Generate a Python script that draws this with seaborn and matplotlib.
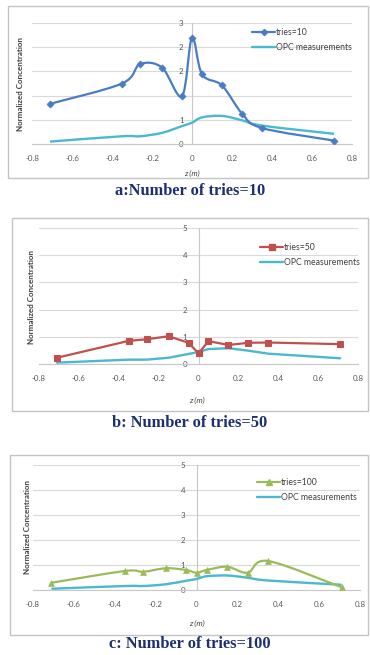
import numpy as np
import pandas as pd
import matplotlib
matplotlib.use("Agg")
import matplotlib.pyplot as plt
from matplotlib.path import Path
from matplotlib.patches import PathPatch, Rectangle
from matplotlib.lines import Line2D
from matplotlib.ticker import FuncFormatter
import seaborn as sns

# Axial positions (m) shared by every series
positions = [-0.71, -0.35, -0.26, -0.15, -0.05, 0.0, 0.05, 0.15, 0.25, 0.35, 0.71]

# Simulated normalized concentrations for each number of tries
tries10 = [0.83, 1.25, 1.65, 1.58, 0.99, 2.20, 1.44, 1.21, 0.63, 0.33, 0.07]
tries50 = [0.23, 0.85, 0.91, 1.02, 0.78, 0.39, 0.84, 0.70, 0.78, 0.79, 0.73]
tries100 = [0.29, 0.76, 0.73, 0.87, 0.80, 0.69, 0.80, 0.93, 0.69, 1.16, 0.11]

# Measured (OPC) normalized concentrations
opc = [0.05, 0.16, 0.16, 0.23, 0.37, 0.44, 0.55, 0.58, 0.49, 0.38, 0.21]

series_labels = ["tries=10", "tries=50", "tries=100"]
opc_label = "OPC measurements"
captions = ["a:Number of tries=10", "b: Number of tries=50", "c: Number of tries=100"]
x_ticks = [-0.8, -0.6, -0.4, -0.2, 0, 0.2, 0.4, 0.6, 0.8]

sns.set_style("white")
plt.rcParams["font.family"] = ["Lato", "DejaVu Sans"]

W, H = 370, 655
fig = plt.figure(figsize=(W / 100, H / 100), dpi=100)

BLUE = "#4a7cc4"
CYAN = "#4bb8d0"
RED = "#c0504d"
GREEN = "#9bbb59"
GRID = "#d9d9d9"
TICKC = "#595959"
NAVY = "#1c2f6e"


def smooth_path(xs, ys):
    """Bezier path through the points (Catmull-Rom style smoothing)."""
    pts = np.column_stack([xs, ys]).astype(float)
    n = len(pts)
    verts = [pts[0]]
    codes = [Path.MOVETO]
    for i in range(n - 1):
        p0 = pts[max(i - 1, 0)]
        p1 = pts[i]
        p2 = pts[i + 1]
        p3 = pts[min(i + 2, n - 1)]
        verts += [p1 + (p2 - p0) / 6.0, p2 - (p3 - p1) / 6.0, p2]
        codes += [Path.CURVE4] * 3
    return Path(verts, codes)


def excel_round(v, pos):
    return f"{int(np.floor(v + 0.5))}"


def make_panel(box, axpx, ymax, ystep, values, label, color, marker, msize,
               smooth, caption, caption_y, legend_px, ylab_px, xlab_px, ypad):
    # frame around the panel
    bx0, by0, bx1, by1 = box
    fig.add_artist(Rectangle((bx0 / W, 1 - by1 / H), (bx1 - bx0) / W, (by1 - by0) / H,
                             transform=fig.transFigure, fill=False,
                             edgecolor="#c4c4c4", lw=1.0))
    x0, x1, ybot, ytop = axpx
    ax = fig.add_axes([x0 / W, 1 - ybot / H, (x1 - x0) / W, (ybot - ytop) / H])
    ax.set_facecolor("none")

    df = pd.DataFrame({"x": positions, "sim": values, "opc": opc})

    if smooth:
        ax.add_patch(PathPatch(smooth_path(df["x"], df["opc"]),
                               facecolor="none", edgecolor=CYAN, lw=1.7, zorder=3))
        ax.add_patch(PathPatch(smooth_path(df["x"], df["sim"]),
                               facecolor="none", edgecolor=color, lw=1.6, zorder=4))
        sns.scatterplot(data=df, x="x", y="sim", ax=ax, marker=marker, s=msize ** 2,
                        color=color, edgecolor=color, linewidth=0.5, zorder=5, legend=False)
    else:
        sns.lineplot(data=df, x="x", y="opc", ax=ax, color=CYAN, lw=1.7, zorder=3,
                     legend=False)
        sns.lineplot(data=df, x="x", y="sim", ax=ax, color=color, lw=1.6, marker=marker,
                     markersize=msize, markeredgecolor=color, zorder=4, legend=False)

    ax.set_xlim(-0.8, 0.8)
    ax.set_ylim(0, ymax)
    ax.set_xticks(x_ticks)
    ax.set_xticklabels([f"{t:g}" for t in x_ticks])
    ax.set_yticks(np.arange(0, ymax + 1e-9, ystep))
    if ystep < 1:
        ax.yaxis.set_major_formatter(FuncFormatter(excel_round))
    else:
        ax.yaxis.set_major_formatter(FuncFormatter(lambda v, p: f"{v:g}"))
    ax.set_xlabel("")
    ax.set_ylabel("")
    ax.yaxis.grid(True, color=GRID, lw=0.8, zorder=0)
    ax.xaxis.grid(False)
    for s in ["top", "right"]:
        ax.spines[s].set_visible(False)
    ax.spines["left"].set_position(("data", 0))
    ax.spines["left"].set_color("#c8c8c8")
    ax.spines["left"].set_linewidth(0.8)
    ax.spines["bottom"].set_color("#c8c8c8")
    ax.spines["bottom"].set_linewidth(0.8)
    ax.tick_params(axis="x", length=0, pad=8, labelsize=5.7, labelcolor=TICKC)
    ax.tick_params(axis="y", length=0, pad=ypad, labelsize=5.7, labelcolor=TICKC)

    # legend
    handles = [Line2D([], [], color=color, lw=1.6, marker=marker, markersize=msize - 0.5),
               Line2D([], [], color=CYAN, lw=1.7)]
    lx, ly = legend_px
    fig.legend(handles, [label, opc_label], loc="upper left",
               bbox_to_anchor=(lx / W, 1 - ly / H), bbox_transform=fig.transFigure,
               frameon=False, fontsize=6.2, handlelength=2.7, handletextpad=0.05,
               labelspacing=0.75, borderpad=0, borderaxespad=0, labelcolor="#404040")

    fig.text(ylab_px[0] / W, 1 - ylab_px[1] / H, "Normalized Concentration",
             rotation=90, ha="center", va="center", fontsize=5.8, color="#404040",
             fontweight="bold")
    fig.text(xlab_px[0] / W, 1 - xlab_px[1] / H, "z (m)", ha="center", va="center",
             fontsize=5.8, color="#404040", style="italic")
    fig.text(190 / W, 1 - caption_y / H, caption, ha="center", va="center",
             fontsize=11.8, fontweight="bold", color=NAVY,
             family=["Liberation Serif", "DejaVu Serif"])
    return ax


make_panel(box=(8, 6, 368, 178), axpx=(32, 352, 144, 23), ymax=2.5, ystep=0.5,
           values=tries10, label=series_labels[0], color=BLUE, marker="D", msize=3.6,
           smooth=True, caption=captions[0], caption_y=191,
           legend_px=(252, 28), ylab_px=(21, 84), xlab_px=(192, 173), ypad=6)

make_panel(box=(12, 218, 368, 411), axpx=(39, 358, 364, 228), ymax=5, ystep=1,
           values=tries50, label=series_labels[1], color=RED, marker="s", msize=4.5,
           smooth=False, caption=captions[1], caption_y=423,
           legend_px=(260, 243), ylab_px=(32, 297), xlab_px=(197, 400), ypad=8)

make_panel(box=(10, 455, 368, 635), axpx=(33, 360, 590, 465), ymax=5, ystep=1,
           values=tries100, label=series_labels[2], color=GREEN, marker="^", msize=4.2,
           smooth=True, caption=captions[2], caption_y=644,
           legend_px=(257, 478), ylab_px=(28, 527), xlab_px=(197, 623), ypad=8)

fig.savefig("out.png", dpi=100, facecolor="white")
